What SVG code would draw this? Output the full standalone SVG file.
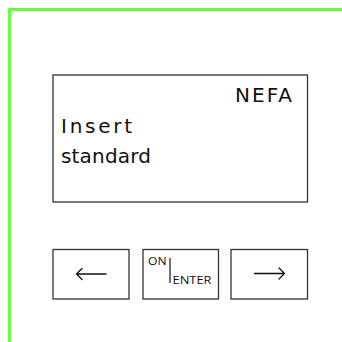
<svg xmlns="http://www.w3.org/2000/svg" width="342" height="342" viewBox="0 0 342 342">
<style>
.frame{fill:none;stroke:#66ff3c;stroke-width:3}
.box{fill:#fff;stroke:#333;stroke-width:1.3}
.lcd{font-family:"DejaVu Sans",Verdana,sans-serif;font-size:20px;fill:#111}
.key{font-family:"Open Sans","Noto Sans",sans-serif;font-size:11px;fill:#111}
.arr{fill:none;stroke:#111;stroke-width:1.3;stroke-linecap:round;stroke-linejoin:round}
</style>
<rect width="342" height="342" fill="#fff"/>
<path class="frame" d="M9.5 342 V9.5 H342"/>
<g id="display">
<rect class="box" x="53" y="75" width="254.5" height="127"/>
<text class="lcd" x="292" y="101.5" text-anchor="end" textLength="57" lengthAdjust="spacing">NEFA</text>
<text class="lcd" x="61" y="133.3" textLength="71" lengthAdjust="spacing">Insert</text>
<text class="lcd" x="61" y="163.3" textLength="90" lengthAdjust="spacing">standard</text>
</g>
<g id="key-left">
<rect class="box" x="53" y="249.5" width="76" height="49.5"/>
<path class="arr" d="M76.5 274 H106 M82 268.5 L76.5 274 L82 279.5"/>
</g>
<g id="key-enter">
<rect class="box" x="143" y="249.5" width="75.5" height="49.5"/>
<text class="key" x="148" y="264.5" textLength="18.5" lengthAdjust="spacingAndGlyphs">ON</text>
<line x1="170" y1="258" x2="170" y2="283" stroke="#111" stroke-width="1.2"/>
<text class="key" x="172.5" y="283.5" textLength="39" lengthAdjust="spacingAndGlyphs">ENTER</text>
</g>
<g id="key-right">
<rect class="box" x="231" y="249.5" width="76.5" height="49.5"/>
<path class="arr" d="M254.5 273.5 H284.5 M279 268 L284.5 273.5 L279 279"/>
</g>
</svg>
